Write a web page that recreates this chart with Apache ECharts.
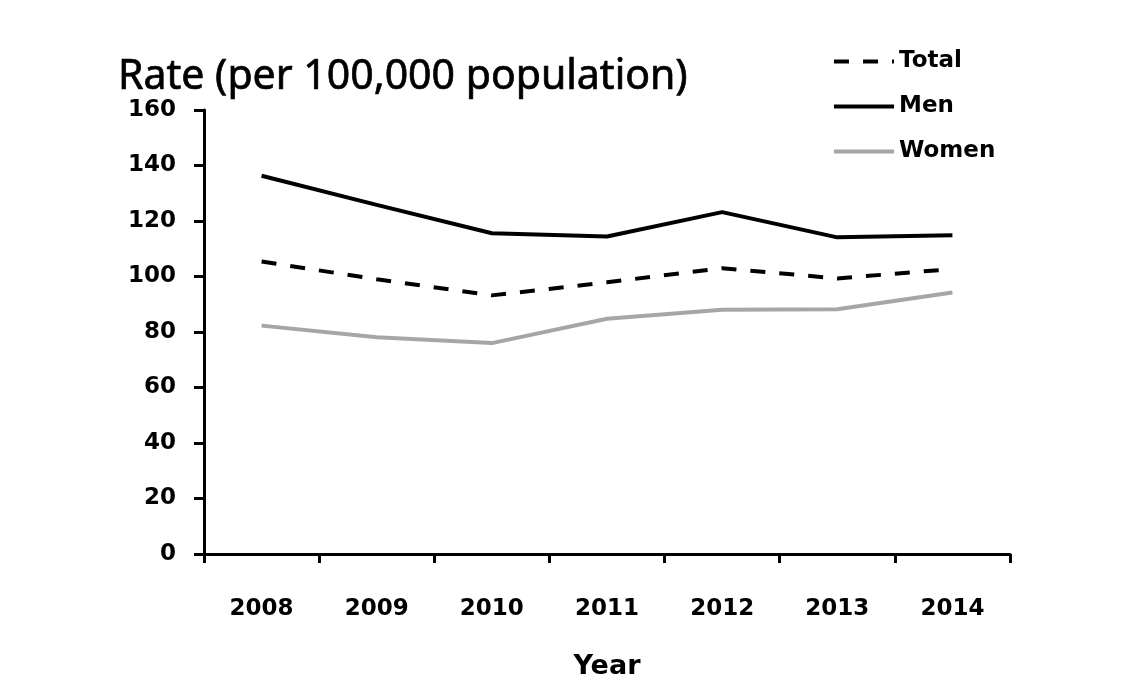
<!DOCTYPE html>
<html>
<head>
<meta charset="utf-8">
<script src="https://cdn.jsdelivr.net/npm/echarts@6/dist/echarts.min.js"></script>
<style>
html,body{margin:0;padding:0;background:#fff;}
#chart{width:1148px;height:697px;}
</style>
</head>
<body>
<div id="chart"></div>
<script>
const years = ['2008','2009','2010','2011','2012','2013','2014'];
const total = [105.4, 99.0, 93.2, 97.9, 103.0, 99.3, 102.7];
const men   = [136.3, 125.8, 115.6, 114.4, 123.2, 114.1, 114.9];
const women = [82.3, 78.1, 76.0, 84.8, 88.0, 88.2, 94.2];
const yTicks = [0, 20, 40, 60, 80, 100, 120, 140, 160];

const chart = echarts.init(document.getElementById('chart'));
const labelFont = {fontFamily: 'DejaVu Sans', fontWeight: 'bold', fontSize: 23, color: '#000'};
chart.setOption({
  animation: false,
  backgroundColor: '#fff',
  title: {
    text: 'Rate (per 100,000 population)',
    left: 113, top: 52,
    textStyle: {fontFamily: 'Noto Sans', fontWeight: 'normal', fontSize: 41, color: '#000',
                textBorderColor: '#000', textBorderWidth: 0.7}
  },
  legend: {
    orient: 'vertical',
    left: 827, top: 45,
    itemWidth: 60, itemHeight: 20, itemGap: 22,
    itemStyle: {opacity: 0},
    lineStyle: {width: 4},
    textStyle: labelFont,
    data: ['Total', 'Men', 'Women']
  },
  grid: {left: 204, right: 138, top: 110, bottom: 143},
  xAxis: {
    type: 'category',
    data: years,
    boundaryGap: true,
    name: 'Year',
    nameLocation: 'middle',
    nameGap: 99,
    nameTextStyle: {fontFamily: 'DejaVu Sans', fontWeight: 'bold', fontSize: 27, color: '#000'},
    axisLine: {lineStyle: {color: '#000', width: 3}},
    axisTick: {show: true, interval: 0, length: 9, lineStyle: {color: '#000', width: 3}},
    axisLabel: Object.assign({margin: 44, interval: 0}, labelFont)
  },
  yAxis: {
    type: 'value',
    min: yTicks[0], max: yTicks[yTicks.length - 1], interval: 20,
    splitLine: {show: false},
    axisLine: {show: true, lineStyle: {color: '#000', width: 3}},
    axisTick: {show: true, length: 10, lineStyle: {color: '#000', width: 3}},
    axisLabel: Object.assign({margin: 28}, labelFont)
  },
  series: [
    {name: 'Total', type: 'line', data: total, symbol: 'none',
     lineStyle: {color: '#000', width: 4, type: [15, 14]}, itemStyle: {color: '#000'}},
    {name: 'Men', type: 'line', data: men, symbol: 'none',
     lineStyle: {color: '#000', width: 4}, itemStyle: {color: '#000'}},
    {name: 'Women', type: 'line', data: women, symbol: 'none',
     lineStyle: {color: '#a6a6a6', width: 4}, itemStyle: {color: '#a6a6a6'}}
  ]
});
</script>
</body>
</html>
